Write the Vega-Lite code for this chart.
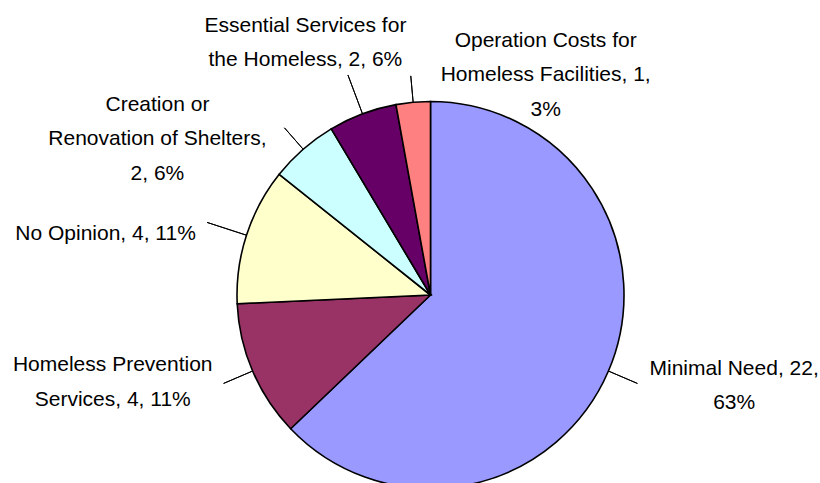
{
  "$schema": "https://vega.github.io/schema/vega-lite/v6.json",
  "autosize": {"type": "none"},
  "width": 779,
  "height": 376,
  "padding": {"left": 41, "top": 107, "right": 0, "bottom": 0},
  "background": "white",
  "config": {"view": {"stroke": null}},
  "data": {
    "values": [
      {"category": "Minimal Need", "count": 22, "label": "Minimal Need, 22,\n63%", "order": 1},
      {"category": "Homeless Prevention Services", "count": 4, "label": "Homeless Prevention\nServices, 4, 11%", "order": 2},
      {"category": "No Opinion", "count": 4, "label": "No Opinion, 4, 11%", "order": 3},
      {"category": "Creation or Renovation of Shelters", "count": 2, "label": "Creation or\nRenovation of Shelters,\n2, 6%", "order": 4},
      {"category": "Essential Services for the Homeless", "count": 2, "label": "Essential Services for\nthe Homeless, 2, 6%", "order": 5},
      {"category": "Operation Costs for Homeless Facilities", "count": 1, "label": "Operation Costs for\nHomeless Facilities, 1,\n3%", "order": 6}
    ]
  },
  "encoding": {
    "theta": {"field": "count", "type": "quantitative", "stack": true},
    "order": {"field": "order", "type": "quantitative"},
    "detail": {"field": "category", "type": "nominal"}
  },
  "layer": [
    {
      "mark": {"type": "arc", "outerRadius": 193.5, "stroke": "#000000", "strokeWidth": 1.6},
      "encoding": {
        "color": {
          "field": "category",
          "type": "nominal",
          "legend": null,
          "scale": {
            "domain": ["Minimal Need", "Homeless Prevention Services", "No Opinion", "Creation or Renovation of Shelters", "Essential Services for the Homeless", "Operation Costs for Homeless Facilities"],
            "range": ["#9999FF", "#993366", "#FFFFCC", "#CCFFFF", "#660066", "#FF8080"]
          }
        }
      }
    },
    {
      "transform": [
        {"stack": "count", "groupby": [], "sort": [{"field": "order", "order": "ascending"}], "as": ["v0", "v1"]}
      ],
      "mark": {
        "type": "arc",
        "innerRadius": 193.5,
        "outerRadius": {"expr": "datum.order==1?225:datum.order==2?225:datum.order==3?235:datum.order==4?222:datum.order==5?235:220"},
        "thetaOffset": {"expr": "datum.order==1?1.6:0"},
        "theta2Offset": {"expr": "datum.order==1?-1.6:0"},
        "padAngle": 3.14159,
        "fill": "#000000",
        "fillOpacity": 0,
        "stroke": "#000000",
        "strokeWidth": 1
      },
      "encoding": {
        "theta": {"field": "v0", "type": "quantitative", "stack": null},
        "theta2": {"field": "v1"}
      }
    },
    {
      "mark": {
        "type": "text",
        "radius": {"expr": "datum.order==1?315:datum.order==2?326:datum.order==3?328:datum.order==4?298:datum.order==5?282:210"},
        "dx": {"expr": "datum.order==1?14:datum.order==2?-18:datum.order==3?-13:datum.order==4?-77:datum.order==5?-26:134"},
        "dy": {"expr": "datum.order==1?-50:datum.order==2?-58:datum.order==3?40:datum.order==4?34:datum.order==5?-5:-45"},
        "align": "center",
        "baseline": "middle",
        "lineBreak": "\n",
        "lineHeight": 34.5,
        "font": "Liberation Sans, Arial, sans-serif",
        "fontSize": 21,
        "fill": "#000000"
      },
      "encoding": {
        "text": {"field": "label", "type": "nominal"}
      }
    }
  ]
}
